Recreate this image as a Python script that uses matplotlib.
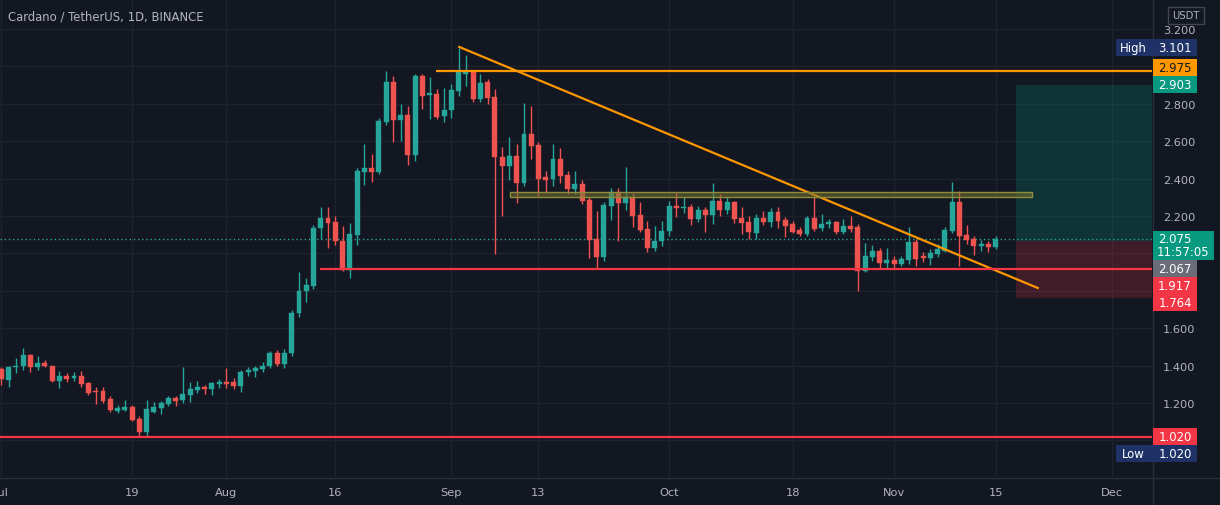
import matplotlib
matplotlib.use('Agg')
import matplotlib.pyplot as plt
import matplotlib.dates as mdates
import matplotlib.transforms as mtransforms
from matplotlib.patches import Rectangle
import numpy as np
import pandas as pd

# ---------------- data ----------------
title = "Cardano / TetherUS, 1D, BINANCE"
dates = pd.date_range('2021-07-01', '2021-11-15', freq='D')

opens = [1.382, 1.325, 1.391, 1.396, 1.457, 1.391, 1.414, 1.396, 1.320, 1.343,
         1.332, 1.343, 1.307, 1.262, 1.262, 1.221, 1.159, 1.162, 1.180, 1.114,
         1.043, 1.154, 1.171, 1.195, 1.225, 1.218, 1.243, 1.271, 1.284, 1.275,
         1.302, 1.314, 1.314, 1.293, 1.368, 1.373, 1.383, 1.396, 1.467, 1.408,
         1.470, 1.680, 1.800, 1.827, 2.134, 2.188, 2.166, 2.068, 1.913, 2.100,
         2.437, 2.457, 2.434, 2.704, 2.918, 2.715, 2.740, 2.526, 2.950, 2.847,
         2.852, 2.733, 2.767, 2.870, 2.960, 2.968, 2.826, 2.918, 2.835, 2.517,
         2.469, 2.523, 2.375, 2.638, 2.580, 2.407, 2.398, 2.505, 2.420, 2.344,
         2.371, 2.286, 2.077, 1.979, 2.255, 2.330, 2.268, 2.303, 2.207, 2.130,
         2.029, 2.068, 2.118, 2.255, 2.243, 2.250, 2.184, 2.232, 2.207, 2.282,
         2.232, 2.273, 2.188, 2.170, 2.109, 2.188, 2.170, 2.220, 2.180, 2.157,
         2.127, 2.104, 2.188, 2.134, 2.157, 2.170, 2.113, 2.148, 2.140, 1.908,
         1.979, 2.015, 1.949, 1.967, 1.943, 1.967, 2.063, 1.984, 1.974, 1.997,
         2.015, 2.122, 2.273, 2.098, 2.077, 2.042, 2.050, 2.033]
highs = [1.391, 1.400, 1.440, 1.492, 1.462, 1.453, 1.430, 1.400, 1.373, 1.359,
         1.364, 1.373, 1.314, 1.284, 1.284, 1.239, 1.189, 1.216, 1.189, 1.128,
         1.218, 1.207, 1.212, 1.239, 1.235, 1.391, 1.314, 1.320, 1.296, 1.314,
         1.328, 1.385, 1.332, 1.378, 1.390, 1.396, 1.417, 1.480, 1.485, 1.490,
         1.700, 1.900, 1.870, 2.152, 2.246, 2.246, 2.202, 2.148, 2.163, 2.455,
         2.585, 2.532, 2.722, 2.974, 2.950, 2.799, 2.790, 2.960, 2.960, 2.942,
         2.880, 2.883, 2.906, 3.101, 3.060, 2.977, 2.959, 2.932, 2.880, 2.567,
         2.624, 2.585, 2.802, 2.790, 2.594, 2.442, 2.585, 2.564, 2.442, 2.442,
         2.393, 2.300, 2.228, 2.273, 2.348, 2.348, 2.464, 2.321, 2.273, 2.175,
         2.148, 2.175, 2.282, 2.326, 2.303, 2.264, 2.255, 2.246, 2.375, 2.318,
         2.303, 2.282, 2.246, 2.198, 2.211, 2.228, 2.241, 2.246, 2.193, 2.175,
         2.140, 2.202, 2.305, 2.211, 2.184, 2.175, 2.184, 2.202, 2.157, 2.056,
         2.045, 2.027, 2.027, 1.984, 1.988, 2.140, 2.077, 2.009, 2.024, 2.050,
         2.140, 2.380, 2.336, 2.152, 2.095, 2.073, 2.068, 2.095]
lows = [1.296, 1.284, 1.360, 1.378, 1.367, 1.378, 1.390, 1.310, 1.278, 1.314,
        1.318, 1.284, 1.243, 1.195, 1.200, 1.154, 1.146, 1.159, 1.106, 1.020,
        1.022, 1.146, 1.141, 1.186, 1.186, 1.200, 1.207, 1.253, 1.248, 1.243,
        1.278, 1.278, 1.275, 1.260, 1.343, 1.337, 1.368, 1.385, 1.400, 1.385,
        1.450, 1.660, 1.740, 1.810, 2.077, 2.027, 2.045, 1.908, 1.867, 2.047,
        2.366, 2.380, 2.425, 2.687, 2.594, 2.603, 2.473, 2.496, 2.772, 2.719,
        2.719, 2.705, 2.722, 2.840, 2.897, 2.808, 2.811, 2.800, 1.997, 2.202,
        2.393, 2.268, 2.362, 2.505, 2.309, 2.321, 2.362, 2.375, 2.318, 2.318,
        2.264, 1.975, 1.917, 1.961, 2.179, 2.065, 2.232, 2.143, 2.113, 2.006,
        2.015, 2.041, 2.095, 2.193, 2.214, 2.154, 2.166, 2.113, 2.157, 2.202,
        2.210, 2.163, 2.104, 2.077, 2.077, 2.152, 2.140, 2.134, 2.086, 2.109,
        2.095, 2.095, 2.122, 2.122, 2.134, 2.104, 2.104, 2.116, 1.800, 1.899,
        1.961, 1.920, 1.920, 1.917, 1.931, 1.943, 1.934, 1.956, 1.938, 1.979,
        2.006, 2.109, 1.934, 2.050, 1.992, 2.015, 2.006, 2.024]
closes = [1.328, 1.391, 1.400, 1.457, 1.391, 1.414, 1.396, 1.316, 1.343, 1.328,
          1.346, 1.302, 1.253, 1.257, 1.212, 1.162, 1.171, 1.180, 1.109, 1.043,
          1.168, 1.177, 1.198, 1.225, 1.212, 1.248, 1.275, 1.284, 1.275, 1.307,
          1.314, 1.302, 1.293, 1.368, 1.378, 1.385, 1.400, 1.467, 1.408, 1.470,
          1.680, 1.800, 1.830, 2.134, 2.188, 2.163, 2.068, 1.913, 2.104, 2.439,
          2.455, 2.434, 2.710, 2.918, 2.713, 2.740, 2.526, 2.947, 2.843, 2.856,
          2.728, 2.767, 2.874, 2.968, 2.968, 2.826, 2.911, 2.830, 2.514, 2.469,
          2.523, 2.375, 2.638, 2.576, 2.398, 2.393, 2.505, 2.416, 2.344, 2.371,
          2.282, 2.072, 1.979, 2.259, 2.330, 2.268, 2.303, 2.202, 2.125, 2.029,
          2.068, 2.118, 2.255, 2.243, 2.250, 2.184, 2.232, 2.207, 2.282, 2.232,
          2.273, 2.184, 2.163, 2.113, 2.188, 2.166, 2.220, 2.175, 2.148, 2.116,
          2.104, 2.188, 2.130, 2.157, 2.170, 2.113, 2.145, 2.130, 1.908, 1.984,
          2.015, 1.949, 1.967, 1.943, 1.970, 2.063, 1.970, 1.974, 2.002, 2.024,
          2.127, 2.273, 2.095, 2.073, 2.038, 2.050, 2.033, 2.075]

tick_dates = ['2021-07-01', '2021-07-19', '2021-08-01', '2021-08-16', '2021-09-01',
              '2021-09-13', '2021-10-01', '2021-10-18', '2021-11-01', '2021-11-15',
              '2021-12-01']
tick_labels = ['Jul', '19', 'Aug', '16', 'Sep', '13', 'Oct', '18', 'Nov', '15', 'Dec']
price_ticks = [1.2, 1.4, 1.6, 2.2, 2.4, 2.6, 2.8, 3.2]
grid_prices = [1.0, 1.2, 1.4, 1.6, 1.8, 2.0, 2.2, 2.4, 2.6, 2.8, 3.0, 3.2]

# drawings
resistance_level = 2.975
resistance_start = '2021-08-29 22:00'
trend_start = ('2021-09-02 02:00', 3.104)
trend_end = ('2021-11-20 19:00', 1.815)
band_low, band_high = 2.300, 2.328
band_start, band_end = '2021-09-09 02:00', '2021-11-20'
support_level = 1.917
support_start = '2021-08-13 22:00'
low_level = 1.020
high_value = 3.101
last_price = 2.075
countdown = '11:57:05'
entry, target, stop = 2.067, 2.903, 1.764
position_start = '2021-11-17 19:00'

# ---------------- style ----------------
BG = '#131722'
GRID = '#1e222d'
TXT = '#b2b5be'
UP = '#26a69a'
DOWN = '#ef5350'
ORANGE = '#ff9800'
RED = '#f23645'
NAVY = '#1e3267'
GRAYLBL = '#6a6d78'
TEALLBL = '#089981'

W, H = 1220, 506
fig = plt.figure(figsize=(W / 100, H / 100), dpi=100, facecolor=BG)
plot_right = 1152
plot_bottom = 478
ax = fig.add_axes([0, (H - plot_bottom) / H, plot_right / W, plot_bottom / H])
ax.set_facecolor(BG)
for s in ax.spines.values():
    s.set_visible(False)

x = mdates.date2num(dates)
x0 = x[0]
ax.set_xlim(x0 - 0.193, x0 + 158.53)
ax.set_ylim(0.8043, 3.3604)

# grid
for gp in grid_prices:
    ax.axhline(gp, color=GRID, lw=1, zorder=0)
tick_x = mdates.date2num(pd.to_datetime(tick_dates))
for tx in tick_x:
    ax.axvline(tx, color=GRID, lw=1, zorder=0)

# position tool
px0 = mdates.date2num(pd.Timestamp(position_start))
xr = x0 + 158.53
ax.add_patch(Rectangle((px0, entry), xr - px0 + 5, target - entry,
                       facecolor=(8/255, 153/255, 129/255, 0.22), edgecolor='none', zorder=1))
ax.add_patch(Rectangle((px0, stop), xr - px0 + 5, entry - stop,
                       facecolor=(242/255, 54/255, 69/255, 0.20), edgecolor='none', zorder=1))

# candles
o = np.array(opens); h = np.array(highs); l = np.array(lows); c = np.array(closes)
up = c >= o
cols = np.where(up, UP, DOWN)
ax.vlines(x, l, h, colors=cols, lw=1, zorder=3)
body_bottom = np.minimum(o, c)
body_h = np.maximum(np.abs(c - o), 0.005)
ax.bar(x, body_h, bottom=body_bottom, width=0.68, color=cols, edgecolor=cols,
       linewidth=0.3, zorder=4)

# current price dotted line
ax.axhline(last_price, color=UP, lw=1, ls=(0, (1, 2)), zorder=2)

# drawings
ax.plot([mdates.date2num(pd.Timestamp(resistance_start)), xr + 5], [resistance_level] * 2,
        color=ORANGE, lw=1.6, zorder=5, solid_capstyle='butt')
ax.plot([mdates.date2num(pd.Timestamp(trend_start[0])), mdates.date2num(pd.Timestamp(trend_end[0]))],
        [trend_start[1], trend_end[1]], color=ORANGE, lw=1.6, zorder=5)
bx0 = mdates.date2num(pd.Timestamp(band_start))
bx1 = mdates.date2num(pd.Timestamp(band_end))
ax.add_patch(Rectangle((bx0, band_low), bx1 - bx0, band_high - band_low,
                       facecolor=(0.45, 0.45, 0.18, 0.55), edgecolor='#8f8c3e', lw=1, zorder=5))
ax.plot([mdates.date2num(pd.Timestamp(support_start)), xr + 5], [support_level] * 2,
        color=RED, lw=1.6, zorder=5, solid_capstyle='butt')
ax.axhline(low_level, color=RED, lw=1.6, zorder=5)

# axes ticks
ax.set_xticks(tick_x)
ax.set_xticklabels(tick_labels)
ax.tick_params(axis='x', length=0, pad=7, colors=TXT, labelsize=8.2)
ax.yaxis.tick_right()
ax.set_yticks(price_ticks)
ax.set_yticklabels([f'{v:.3f}' for v in price_ticks])
ax.tick_params(axis='y', length=0, pad=8, colors=TXT, labelsize=8.2)

# separators
ident = mtransforms.IdentityTransform()
fig.add_artist(plt.Line2D([plot_right + 0.5, plot_right + 0.5], [0, H], color='#2a2e39', lw=1, transform=ident))
fig.add_artist(plt.Line2D([0, W], [H - plot_bottom - 0.5, H - plot_bottom - 0.5], color='#2a2e39', lw=1, transform=ident))

# title
fig.text(8 / W, 1 - 17 / H, title, color=TXT, fontsize=8.4, va='center', ha='left')

# USDT box
fig.add_artist(Rectangle((1168, H - 25), 36, 17, facecolor=BG, edgecolor='#434651', lw=1, transform=ident))
fig.text(1186, H - 16.5, 'USDT', color=TXT, fontsize=7.2, ha='center', va='center', transform=ident)

# price labels (stacked like TradingView)
fig.canvas.draw()
def ypix(p):
    return H - ax.transData.transform((x0, p))[1]   # pixel from top

labels = [
    # text, price, box colour, text colour, lines, nudge
    (f'{high_value:.3f}', high_value, NAVY, 'white', 1, 0),
    (f'{resistance_level:.3f}', resistance_level, ORANGE, '#131722', 1, -3.5),
    (f'{target:.3f}', target, TEALLBL, 'white', 1, 0),
    (f'{last_price:.3f}\n{countdown}', last_price, TEALLBL, 'white', 2, 0),
    (f'{entry:.3f}', entry, GRAYLBL, 'white', 1, 0),
    (f'{support_level:.3f}', support_level, RED, 'white', 1, 0),
    (f'{stop:.3f}', stop, RED, 'white', 1, 0),
    (f'{low_level:.3f}', low_level, RED, 'white', 1, 0),
]
BOXH = 17
prev_bottom = -100
boxes = []
for txt, p, fc, tc, nl, nudge in labels:
    top = ypix(p) - BOXH / 2 + nudge
    if nudge == 0:
        top = max(top, prev_bottom)
    hgt = BOXH if nl == 1 else 29
    boxes.append((txt, top, hgt, fc, tc, nl))
    prev_bottom = top + hgt

for txt, top, hgt, fc, tc, nl in boxes:
    wid = 44 if nl == 1 else 61
    fig.add_artist(Rectangle((1153, H - top - hgt), wid, hgt, facecolor=fc, edgecolor='none',
                             transform=ident, zorder=5))
    if nl == 1:
        fig.text(1175, H - top - hgt / 2, txt, color=tc, fontsize=8.4, ha='center', va='center',
                 transform=ident, zorder=6)
    else:
        l1, l2 = txt.split('\n')
        fig.text(1175, H - top - 8, l1, color=tc, fontsize=8.4, ha='center', va='center',
                 transform=ident, zorder=6)
        fig.text(1183, H - top - 21, l2, color=tc, fontsize=8.4, ha='center', va='center',
                 transform=ident, zorder=6)

# High / Low tags (value box for High already drawn above; Low gets its own value)
high_top = boxes[0][1]
low_top = boxes[-1][1] + boxes[-1][2]
fig.add_artist(Rectangle((1116, H - high_top - BOXH), 37, BOXH, facecolor=NAVY, edgecolor='none',
                         transform=ident, zorder=5))
fig.text(1133, H - high_top - BOXH / 2, 'High', color='white', fontsize=8.4, ha='center',
         va='center', transform=ident, zorder=6)
fig.add_artist(Rectangle((1116, H - low_top - BOXH), 81, BOXH, facecolor=NAVY, edgecolor='none',
                         transform=ident, zorder=5))
fig.text(1133, H - low_top - BOXH / 2, 'Low', color='white', fontsize=8.4, ha='center',
         va='center', transform=ident, zorder=6)
fig.text(1175, H - low_top - BOXH / 2, f'{low_level:.3f}', color='white', fontsize=8.4,
         ha='center', va='center', transform=ident, zorder=6)

fig.savefig('out.png', dpi=100, facecolor=BG)
